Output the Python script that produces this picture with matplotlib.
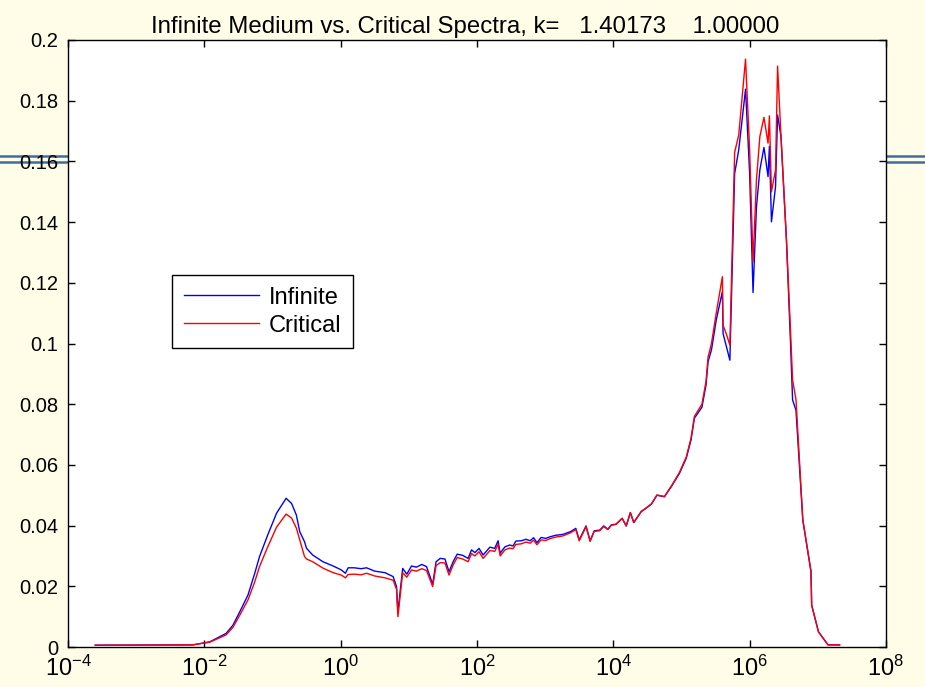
import numpy as np
import matplotlib
matplotlib.use("Agg")
import matplotlib.pyplot as plt
from matplotlib.lines import Line2D

plt.rcParams['font.family'] = ['Liberation Sans', 'DejaVu Sans']
plt.rcParams['mathtext.fontset'] = 'custom'
plt.rcParams['mathtext.rm'] = 'Liberation Sans'

# log10 of energy for each sample
log_e = [-3.60, -2.17, -1.92, -1.68, -1.58, -1.48, -1.36, -1.26, -1.19, -1.07,
         -0.94, -0.80, -0.72, -0.65, -0.60, -0.53, -0.50, -0.41, -0.26, -0.11,
         0.01, 0.07, 0.11, 0.20, 0.30, 0.38, 0.50, 0.65, 0.77, 0.82,
         0.84, 0.91, 0.97, 1.04, 1.11, 1.19, 1.26, 1.35, 1.40, 1.46,
         1.53, 1.59, 1.65, 1.71, 1.79, 1.87, 1.92, 1.97, 2.03, 2.09,
         2.19, 2.26, 2.31, 2.34, 2.41, 2.48, 2.53, 2.57, 2.65, 2.72,
         2.78, 2.83, 2.88, 2.94, 3.01, 3.07, 3.15, 3.26, 3.37, 3.45,
         3.50, 3.60, 3.66, 3.72, 3.80, 3.86, 3.92, 3.97, 4.04, 4.13,
         4.19, 4.25, 4.30, 4.41, 4.48, 4.56, 4.64, 4.75, 4.85, 4.97,
         5.07, 5.14, 5.19, 5.30, 5.36, 5.39, 5.44, 5.51, 5.60, 5.61,
         5.66, 5.71, 5.78, 5.84, 5.94, 6.00, 6.05, 6.10, 6.15, 6.21,
         6.27, 6.29, 6.32, 6.38, 6.41, 6.46, 6.54, 6.60, 6.63, 6.68,
         6.78, 6.90, 6.91, 7.01, 7.15, 7.32]

infinite = [0.0006, 0.0007, 0.0017, 0.0045, 0.0072, 0.0116, 0.0171, 0.0243, 0.0298, 0.0369,
            0.0441, 0.0490, 0.0473, 0.0435, 0.0380, 0.0347, 0.0325, 0.0303, 0.0281, 0.0267,
            0.0254, 0.0243, 0.0261, 0.0261, 0.0258, 0.0261, 0.0250, 0.0245, 0.0232, 0.0199,
            0.0115, 0.0259, 0.0240, 0.0267, 0.0263, 0.0272, 0.0265, 0.0207, 0.0281, 0.0292,
            0.0290, 0.0248, 0.0281, 0.0306, 0.0302, 0.0292, 0.0320, 0.0311, 0.0325, 0.0303,
            0.0329, 0.0325, 0.0350, 0.0309, 0.0330, 0.0336, 0.0333, 0.0349, 0.0350, 0.0355,
            0.0350, 0.0360, 0.0344, 0.0361, 0.0358, 0.0363, 0.0368, 0.0371, 0.0380, 0.0391,
            0.0353, 0.0399, 0.0350, 0.0383, 0.0385, 0.0399, 0.0388, 0.0402, 0.0405, 0.0424,
            0.0399, 0.0443, 0.0410, 0.0446, 0.0457, 0.0471, 0.0500, 0.0495, 0.0528, 0.0572,
            0.0622, 0.0682, 0.0754, 0.0790, 0.0863, 0.0940, 0.0979, 0.1077, 0.1171, 0.1033,
            0.0989, 0.0945, 0.1560, 0.1638, 0.1838, 0.1560, 0.1168, 0.1450, 0.1572, 0.1646,
            0.1550, 0.1650, 0.1401, 0.1517, 0.1753, 0.1682, 0.1341, 0.1000, 0.0814, 0.0780,
            0.0418, 0.0248, 0.0138, 0.0050, 0.0007, 0.0007]

critical = [0.0006, 0.0007, 0.0016, 0.0040, 0.0065, 0.0105, 0.0155, 0.0215, 0.0265, 0.0330,
            0.0395, 0.0438, 0.0425, 0.0392, 0.0353, 0.0298, 0.0290, 0.0281, 0.0260, 0.0245,
            0.0237, 0.0228, 0.0239, 0.0240, 0.0238, 0.0243, 0.0234, 0.0228, 0.0220, 0.0190,
            0.0100, 0.0245, 0.0230, 0.0254, 0.0250, 0.0258, 0.0252, 0.0199, 0.0268, 0.0278,
            0.0277, 0.0237, 0.0270, 0.0295, 0.0290, 0.0281, 0.0308, 0.0300, 0.0314, 0.0292,
            0.0318, 0.0315, 0.0338, 0.0300, 0.0320, 0.0326, 0.0324, 0.0338, 0.0340, 0.0346,
            0.0342, 0.0352, 0.0337, 0.0353, 0.0351, 0.0357, 0.0362, 0.0366, 0.0376, 0.0387,
            0.0350, 0.0396, 0.0348, 0.0381, 0.0383, 0.0397, 0.0387, 0.0401, 0.0404, 0.0424,
            0.0399, 0.0443, 0.0410, 0.0447, 0.0458, 0.0472, 0.0501, 0.0496, 0.0530, 0.0575,
            0.0626, 0.0688, 0.0760, 0.0800, 0.0875, 0.0955, 0.1000, 0.1100, 0.1220, 0.1060,
            0.1030, 0.0995, 0.1630, 0.1687, 0.1937, 0.1638, 0.1270, 0.1539, 0.1682, 0.1745,
            0.1660, 0.1750, 0.1500, 0.1572, 0.1914, 0.1682, 0.1341, 0.1040, 0.0880, 0.0815,
            0.0420, 0.0250, 0.0138, 0.0050, 0.0007, 0.0007]

title = "Infinite Medium vs. Critical Spectra, k=   1.40173    1.00000"
yticks = [0, 0.02, 0.04, 0.06, 0.08, 0.1, 0.12, 0.14, 0.16, 0.18, 0.2]
ytick_labels = ["0", "0.02", "0.04", "0.06", "0.08", "0.1", "0.12", "0.14", "0.16", "0.18", "0.2"]
xticks = [1e-4, 1e-2, 1e0, 1e2, 1e4, 1e6, 1e8]
xtick_exps = ["-4", "-2", "0", "2", "4", "6", "8"]

energy = 10 ** np.array(log_e)

fig = plt.figure(figsize=(9.25, 6.87), dpi=100, facecolor="#fffde8")
ax = fig.add_axes([0.0735, 0.0582, 0.8843, 0.8836])
ax.set_facecolor("white")

# stray double rule behind the figure edges
for yy in (0.7735, 0.7645):
    fig.add_artist(Line2D([0, 1], [yy, yy], transform=fig.transFigure,
                          color="#3b6ea3", lw=1.8, zorder=-1))

ax.plot(energy, infinite, color="blue", lw=1.0, label="Infinite")
ax.plot(energy, critical, color="red", lw=1.0, label="Critical")

ax.set_xscale("log")
ax.set_xlim(1e-4, 1e8)
ax.set_ylim(0, 0.2)
ax.set_xticks(xticks)
ax.set_xticklabels(["$\\mathregular{10^{%s}}$" % e for e in xtick_exps])
ax.xaxis.set_minor_locator(matplotlib.ticker.NullLocator())
ax.set_yticks(yticks)
ax.set_yticklabels(ytick_labels)
ax.tick_params(direction="in", length=5, width=1, top=True, right=True)
ax.tick_params(axis="y", labelsize=14.5, pad=7)
ax.tick_params(axis="x", labelsize=17, pad=6)
for s in ax.spines.values():
    s.set_linewidth(1)

ax.set_title(title, fontsize=17.3, pad=5, x=0.485)

leg = ax.legend(loc="upper left", bbox_to_anchor=(0.127, 0.613), fontsize=17,
                fancybox=False, framealpha=1, edgecolor="black",
                handlelength=3.2, handletextpad=0.4, borderpad=0.5,
                labelspacing=0.25, borderaxespad=0)
leg.get_frame().set_linewidth(1)

fig.savefig("out.png", dpi=100, facecolor=fig.get_facecolor())
